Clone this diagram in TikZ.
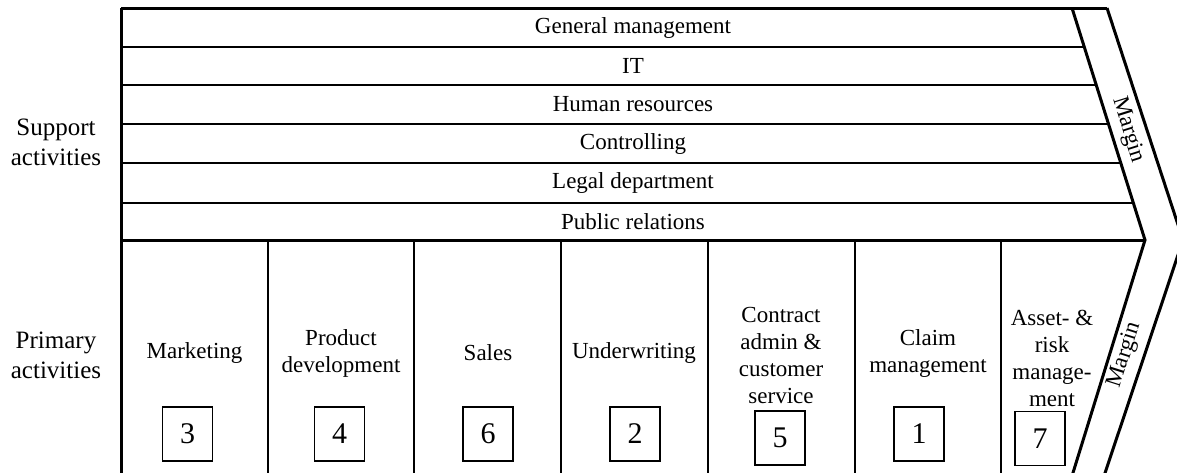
\documentclass[tikz,border=0pt]{standalone}
\usepackage{fontspec}
\setmainfont{Liberation Serif}
\newfontfamily\tnr{Liberation Serif}
\tikzset{
  thickline/.style={line width=3pt},
  thinline/.style={line width=1.8pt},
  rowtext/.style={font=\tnr\fontsize{23}{27.6}\selectfont, inner sep=0pt},
  coltext/.style={font=\tnr\fontsize{23}{27}\selectfont, align=center, inner sep=0pt},
  sidetext/.style={font=\tnr\fontsize{25}{30}\selectfont, align=center, inner sep=0pt},
  numbox/.style={draw, line width=1.2pt, minimum width=50pt, minimum height=54pt, inner sep=0pt, font=\tnr\fontsize{30}{36}\selectfont},
  margintext/.style={font=\tnr\fontsize{23}{27.6}\selectfont, inner sep=0pt},
}
\begin{document}
\begin{tikzpicture}[x=1pt,y=-1pt]
\useasboundingbox (0,0) rectangle (1177,472);
\begin{scope}
\clip (0,0) rectangle (1177,472);
% key coordinates
\coordinate (TL) at (121,8);
\coordinate (BL) at (121,476);
\coordinate (UI) at (1072,8);
\coordinate (UO) at (1107,8);
\coordinate (TipI) at (1145,240);
\coordinate (TipO) at (1183,240);
\coordinate (LI) at (1072,476);
\coordinate (LO) at (1104,476);
\coordinate (Sep) at (121,240);
% support row lines
\draw[thinline] (121,47) -- (1084.3,47);
\draw[thinline] (121,85) -- (1096.2,85);
\draw[thinline] (121,124) -- (1108.5,124);
\draw[thinline] (121,163) -- (1120.8,163);
\draw[thinline] (121,203) -- (1133.4,203);
% column dividers
\foreach \cx in {268,414,561,708,855,1001}
  \draw[thinline] (\cx,240) -- (\cx,476);
% outer frame and chevron
\draw[thickline] (TL) -- (UO);
\draw[thickline] (BL) -- (TL);
\draw[thickline] (Sep) -- (TipI);
\draw[thickline] (UI) -- (TipI) -- (LI);
\draw[thickline] (UO) -- (TipO) -- (LO);
\end{scope}
% support rows
\node[rowtext] (r1) at (633,27.5) {General management};
\node[rowtext] (r2) at (633,66) {IT};
\node[rowtext] (r3) at (633,104.5) {Human resources};
\node[rowtext] (r4) at (633,143.5) {Controlling};
\node[rowtext] (r5) at (633,183) {Legal department};
\node[rowtext] (r6) at (633,221.5) {Public relations};
% side labels
\node[sidetext] (sup) at (56,142) {Support\\activities};
\node[sidetext] (pri) at (56,355) {Primary\\activities};
% primary activities
\node[coltext] (c1) at (194.5,353) {Marketing};
\node[coltext] (c2) at (341,353) {Product\\development};
\node[coltext] (c3) at (488,353) {Sales};
\node[coltext] (c4) at (634,353) {Underwriting};
\node[coltext] (c5) at (781,355) {Contract\\admin \&\\customer\\service};
\node[coltext] (c6) at (928,353) {Claim\\management};
\node[coltext] (c7) at (1052,358) {Asset- \&\\risk\\manage-\\ment};
% number boxes
\node[numbox] (n3) at (187.5,434) {3};
\node[numbox] (n4) at (339.5,434) {4};
\node[numbox] (n6) at (488,434) {6};
\node[numbox] (n2) at (635,434) {2};
\node[numbox] (n5) at (780,438) {5};
\node[numbox] (n1) at (919,434) {1};
\node[numbox] (n7) at (1040,438.5) {7};
% margin labels
\node[margintext, rotate=-72.5] (m1) at (1128,130) {Margin};
\node[margintext, rotate=72.5] (m2) at (1125,355) {Margin};
\end{tikzpicture}
\end{document}
